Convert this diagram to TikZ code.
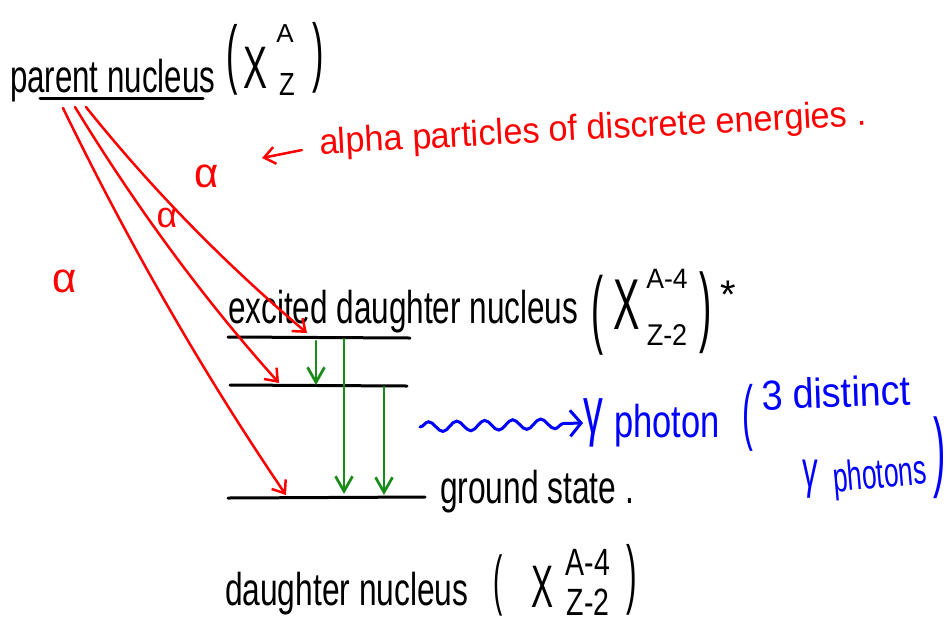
\documentclass[tikz,border=0pt]{standalone}
\usepackage{fontspec}
\setmainfont{Liberation Sans}
\usetikzlibrary{arrows.meta,decorations.pathmorphing,calc}
\definecolor{inkred}{RGB}{255,0,0}
\definecolor{inkgreen}{RGB}{24,140,24}
\definecolor{inkblue}{RGB}{0,0,255}
\newcommand{\narrow}[2]{\scalebox{#1}[1]{#2}}
\begin{document}
\begin{tikzpicture}[x=1pt,y=-1pt,
  txt/.style={inner sep=0pt, outer sep=0pt, font=\fontsize{#1}{#1}\selectfont},
  hw/.style={txt=46, anchor=base west},
  redtxt/.style={txt=#1, text=inkred},
  bluetxt/.style={txt=#1, text=inkblue},
  levelline/.style={line width=3pt, line cap=round},
  alphaarrow/.style={inkred, line width=2.5pt, line cap=round,
     -{Straight Barb[length=11pt,width=17pt,line width=2.5pt]}},
  gammaarrow/.style={inkgreen, line width=2.7pt, line cap=round,
     -{Straight Barb[length=15pt,width=17pt,line width=2.7pt]}},
  wavearrow/.style={inkblue, line width=3pt, line cap=round,
     decorate, decoration={snake, amplitude=5pt, segment length=28pt, post length=12pt},
     -{Straight Barb[length=11pt,width=26pt,line width=3pt]}},
]
\fill[white] (0,0) rectangle (950,630);
\useasboundingbox (0,0) rectangle (950,630);

% parent nucleus
\node[hw] (parent) at (10,92) {\narrow{0.68}{parent nucleus}};
\draw[levelline] ($(parent.base west)+(30,6)$) -- ($(parent.base east)+(-12,6)$);
\node[txt=76] (lp1) at (232,60) {\narrow{0.45}{(}};
\node[txt=60] (X1) at (256,68) {\narrow{0.6}{X}};
\node[txt=26] (A1) at (285,34) {A};
\node[txt=32] (Z1) at (287,84) {\narrow{0.8}{Z}};
\node[txt=76] (rp1) at (318,58) {\narrow{0.45}{)}};

% red annotation
\node[redtxt=36, anchor=base west, rotate=3] (alphanote) at (320,154)
  {\narrow{0.95}{alpha particles of discrete energies .}};
\coordinate (ptrtail) at (302,150);
\coordinate (ptrtip) at (262,158);
\draw[alphaarrow] (ptrtail) -- (ptrtip);

\node[redtxt=42] (al1) at (207,176) {α};
\node[redtxt=36] (al2) at (167,218) {α};
\node[redtxt=42] (al3) at (65,281) {α};

% excited daughter nucleus
\node[hw] (exc) at (228,323) {\narrow{0.685}{excited daughter nucleus}};
\node[txt=86] (lp2) at (598,315) {\narrow{0.42}{(}};
\node[txt=72] (X2) at (627,305) {\narrow{0.55}{X}};
\node[txt=28] (A2) at (667,279) {\narrow{0.95}{A-4}};
\node[txt=30] (Z2) at (667,335) {\narrow{0.9}{Z-2}};
\node[txt=88] (rp2) at (706,313) {\narrow{0.42}{)}};
\node[txt=40] (star) at (728,295) {*};

% energy levels
\coordinate (L1a) at (228,337); \coordinate (L1b) at (410,338);
\coordinate (L2a) at (230,385); \coordinate (L2b) at (407,386);
\coordinate (L3a) at (228,498); \coordinate (L3b) at (425,497);
\draw[levelline] (L1a) -- (L1b);
\draw[levelline] (L2a) -- (L2b);
\draw[levelline] (L3a) -- (L3b);

% alpha decays
\coordinate (s1) at (63,108);
\coordinate (s2) at (75,107);
\coordinate (s3) at (86,107);
\coordinate (e1) at (286,495);
\coordinate (e2) at (279,383);
\coordinate (e3) at (307,333);
\draw[alphaarrow] (s1) .. controls (127,240) and (201,370) .. (e1);
\draw[alphaarrow] (s2) .. controls (133,202) and (200,295) .. (e2);
\draw[alphaarrow] (s3) .. controls (150,187) and (223,262) .. (e3);

% gamma transitions
\coordinate (g1s) at (316,341); \coordinate (g1e) at (316,385);
\coordinate (g2s) at (344,339); \coordinate (g2e) at (344,494);
\coordinate (g3s) at (384,387); \coordinate (g3e) at (384,495);
\draw[gammaarrow] (g1s) -- (g1e);
\draw[gammaarrow] (g2s) -- (g2e);
\draw[gammaarrow] (g3s) -- (g3e);

% gamma photon
\node[bluetxt=66] (gam) at (593,423) {\narrow{0.6}{γ}};
\node[bluetxt=46, anchor=base west] (photon) at (614,437) {\narrow{0.75}{photon}};
\coordinate (w0) at (420,427);
\draw[wavearrow] (w0) -- (gam.west);

\node[bluetxt=72] (lp4) at (748,418) {\narrow{0.45}{(}};
\node[bluetxt=42, anchor=base west, rotate=2] (distinct) at (762,410) {\narrow{0.9}{3 distinct}};
\node[bluetxt=52] (gam2) at (810,479) {\narrow{0.6}{γ}};
\node[bluetxt=42, anchor=base west, rotate=5] (photons) at (834,492) {\narrow{0.63}{photons}};
\node[bluetxt=88] (rp4) at (940,458) {\narrow{0.42}{)}};

% ground state
\node[hw] (gs) at (440,503) {\narrow{0.69}{ground state .}};

% daughter nucleus
\node[hw] (dn) at (225,605) {\narrow{0.69}{daughter nucleus}};
\node[txt=66] (lp3) at (498,585) {\narrow{0.42}{(}};
\node[txt=60] (X3) at (542,587) {\narrow{0.55}{X}};
\node[txt=38] (A3) at (588,562) {\narrow{0.75}{A-4}};
\node[txt=38] (Z3) at (588,602) {\narrow{0.75}{Z-2}};
\node[txt=76] (rp3) at (632,580) {\narrow{0.42}{)}};
\end{tikzpicture}
\end{document}
